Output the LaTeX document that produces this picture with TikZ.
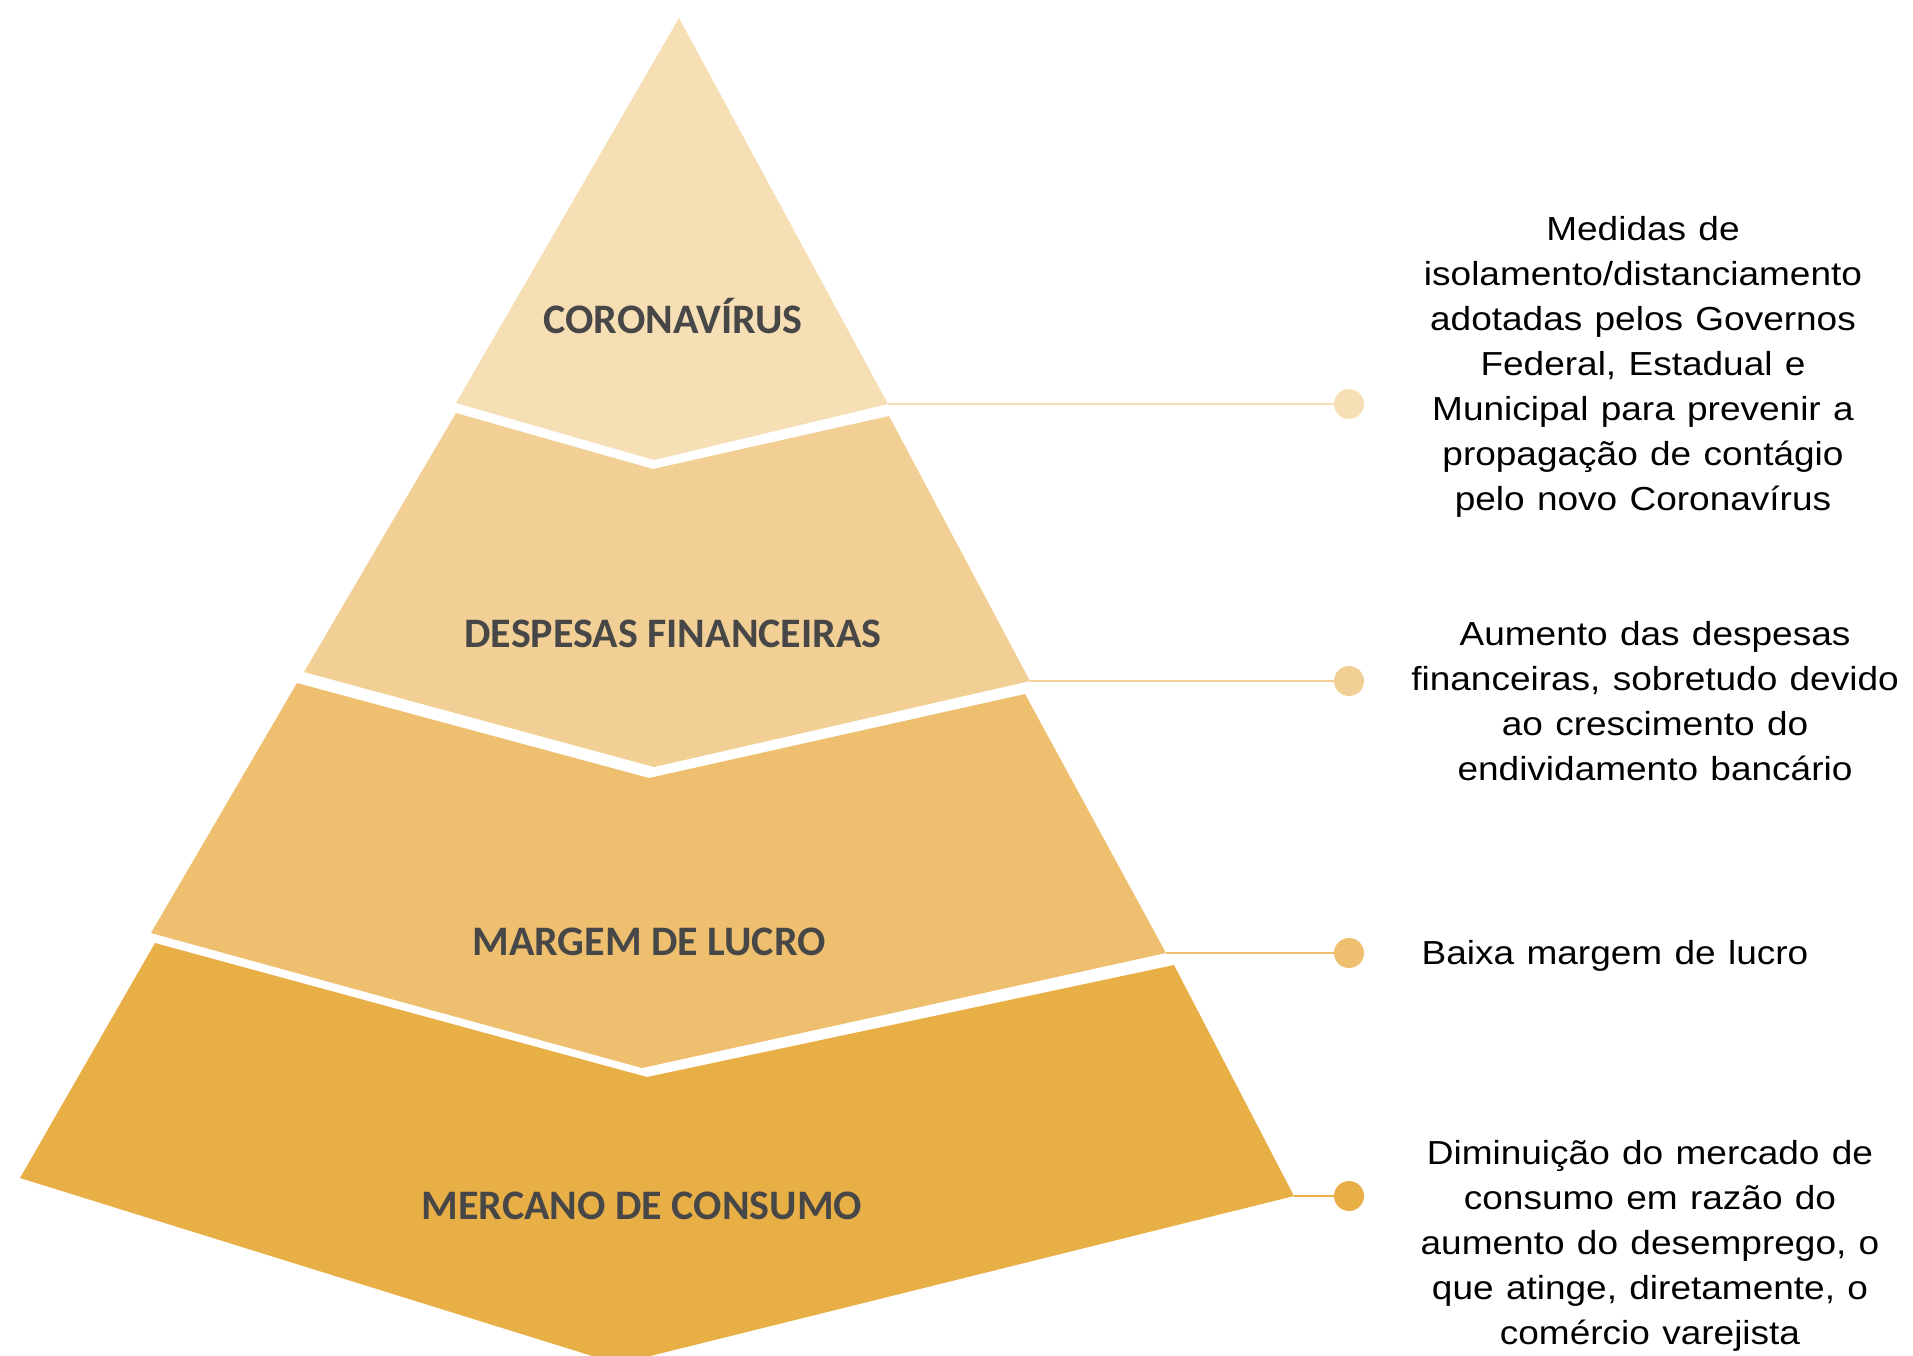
\documentclass[tikz,border=0pt]{standalone}
\usepackage{fontspec}
\newfontfamily\calibfont{Carlito}
\newfontfamily\arialfont{Liberation Sans}
\definecolor{cA}{HTML}{F6DFB5}
\definecolor{cB}{HTML}{F2CF94}
\definecolor{cC}{HTML}{EDBF6E}
\definecolor{cD}{HTML}{E9AF47}
\definecolor{lblgray}{HTML}{474747}
\tikzset{
  lbl/.style={font=\calibfont\bfseries\fontsize{42}{50}\selectfont, text=lblgray, inner sep=0pt, anchor=base},
  desc/.style={font=\arialfont\fontsize{37}{50}\selectfont, text=black, align=center, text width=560pt, inner sep=0pt, anchor=base, yscale=0.9},
  dot/.style={circle, minimum size=30pt, inner sep=0pt, fill=#1},
  conn/.style={draw=#1, line width=2.5pt}
}
\begin{document}
\begin{tikzpicture}[x=1pt,y=-1pt]
\useasboundingbox (0,0) rectangle (1913,1355);
\begin{scope}
\clip (0,0) rectangle (1913,1355);
% layers
\fill[cA] (679,18) -- (888,404) -- (654,460) -- (456,403) -- cycle;
\fill[cB] (456,413) -- (653,469) -- (889,416) -- (1030,681) -- (654,767) -- (304,672) -- cycle;
\fill[cC] (297,683) -- (649,778) -- (1025,694) -- (1166,953) -- (642,1068) -- (151,933) -- cycle;
\fill[cD] (155,943) -- (647,1077) -- (1174,965) -- (1294,1196) -- (618,1364) -- (20,1178) -- cycle;
\end{scope}
% corner coordinates
\coordinate (k1) at (888,404);
\coordinate (k2) at (1030,681);
\coordinate (k3) at (1166,953);
\coordinate (k4) at (1294,1196);
% labels
\node[lbl] (n1) at (673,333) {CORONAVÍRUS};
\node[lbl] (n2) at (673,647) {DESPESAS FINANCEIRAS};
\node[lbl] (n3) at (649,955) {MARGEM DE LUCRO};
\node[lbl] (n4) at (642,1219) {MERCANO DE CONSUMO};
% dots
\node[dot=cA] (d1) at (1349,404) {};
\node[dot=cB] (d2) at (1349,681) {};
\node[dot=cC] (d3) at (1349,953) {};
\node[dot=cD] (d4) at (1349,1196) {};
% connectors
\draw[conn=cA] (k1) -- (d1);
\draw[conn=cB] (k2) -- (d2);
\draw[conn=cC] (k3) -- (d3);
\draw[conn=cD] (k4) -- (d4);
% descriptions
\node[desc] (t1) at (1643,240) {Medidas de\\ isolamento/distanciamento\\ adotadas pelos Governos\\ Federal, Estadual e\\ Municipal para prevenir a\\ propagação de contágio\\ pelo novo Coronavírus};
\node[desc] (t2) at (1655,645) {Aumento das despesas\\ financeiras, sobretudo devido\\ ao crescimento do\\ endividamento bancário};
\node[desc] (t3) at (1615,964) {Baixa margem de lucro};
\node[desc] (t4) at (1650,1164.5) {Diminuição do mercado de\\ consumo em razão do\\ aumento do desemprego, o\\ que atinge, diretamente, o\\ comércio varejista};
\end{tikzpicture}
\end{document}
